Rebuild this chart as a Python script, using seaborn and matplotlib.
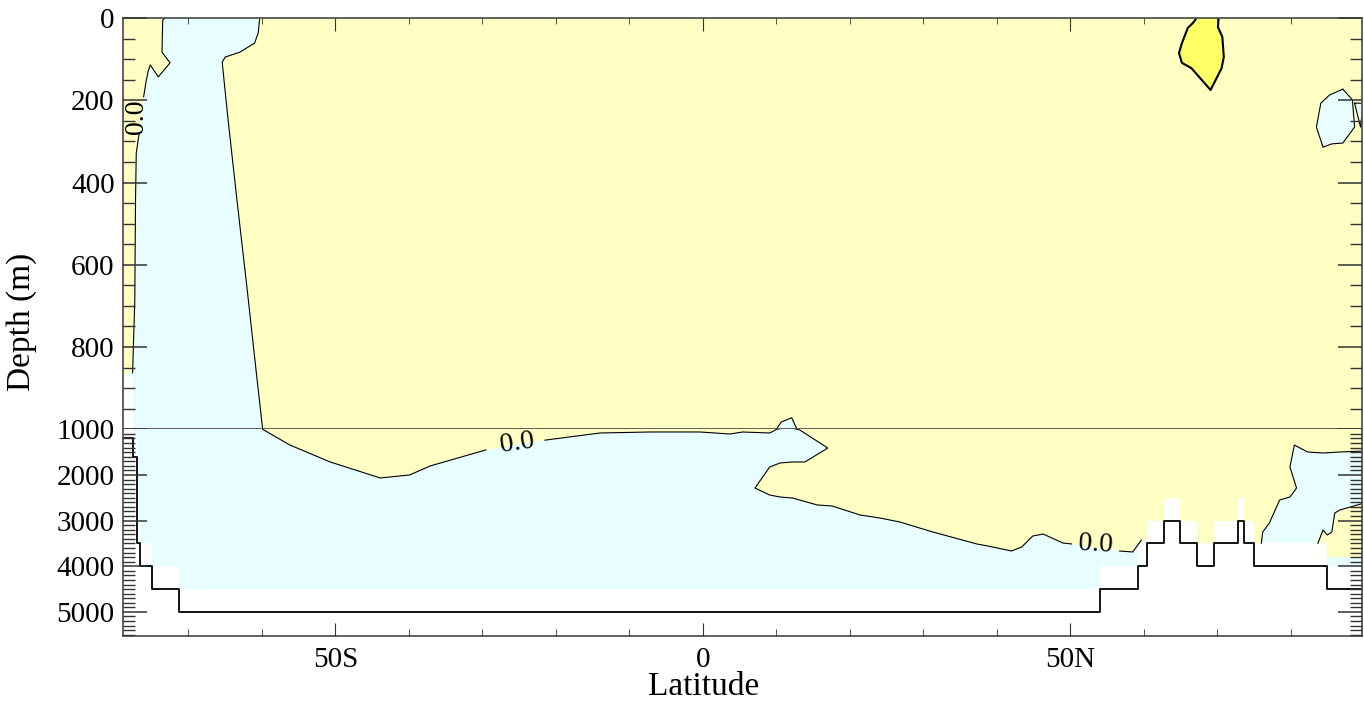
import matplotlib
matplotlib.use('Agg')
import matplotlib.pyplot as plt
import numpy as np
import pandas as pd
import seaborn as sns
from matplotlib.ticker import MultipleLocator, FixedLocator

# model bathymetry along the section (step edges in latitude)
lat_edges = [-78.9, -77.6, -77.0, -76.6, -75.0, -71.3, 54.0, 59.2, 60.4, 62.7,
             65.0, 67.3, 69.5, 72.8, 73.7, 75.0, 84.9, 89.7]
bottom_depth = [1200, 1600, 3500, 4000, 4500, 5000, 4500, 4000, 3500, 3000,
                3500, 4000, 3500, 3000, 3500, 4000, 4500]
fill_depth = [870, 1200, 3000, 3500, 4000, 4500, 4000, 3500, 3000, 2500,
              3000, 3500, 3000, 2500, 3000, 3500, 4000]

# zero contour: west side of the Southern Ocean column (top -> down)
so_west_a_lat = [-73.2, -73.5, -73.6, -72.5, -74.1, -75.2, -75.5, -75.8, -76.1]
so_west_a_dep = [0, 5, 83, 109, 143, 114, 131, 158, 192]
so_west_b_lat = [-76.7, -77.1, -77.2, -77.3, -77.6]
so_west_b_dep = [280, 328, 442, 686, 863]

# zero contour: east side of the column, then along the deep ocean
deep_a_lat = [-60.3, -60.5, -61.0, -63.0, -65.0, -65.4, -65.3, -64.6, -63.4, -62.0,
              -60.8, -59.9, -56.2, -50.7, -43.9, -39.9, -37.1, -29.5]
deep_a_dep = [0, 36, 61, 83, 95, 107, 126, 248, 442, 661,
              856, 1000, 1344, 1716, 2066, 2000, 1803, 1450]
deep_b_lat = [-21.5, -14.0, -7.2, -0.4, 3.7, 5.4, 9.1, 10.1, 10.7, 12.1, 13.2, 17.0,
              13.9, 12.1, 10.5, 9.1, 7.1, 9.1, 10.5, 12.2, 15.6, 17.6, 21.4, 24.1,
              26.8, 31.3, 37.3, 38.8, 42.0, 43.4, 44.9, 46.3, 49.0, 50.2]
deep_b_dep = [1238, 1081, 1059, 1059, 1103, 1059, 1081, 997, 982, 972, 1015, 1410,
              1716, 1716, 1738, 1826, 2286, 2439, 2483, 2505, 2658, 2680, 2877, 2943,
              3030, 3249, 3512, 3556, 3665, 3578, 3337, 3293, 3490, 3512]
deep_c_lat = [56.7, 58.5, 59.7]
deep_c_dep = [3665, 3687, 3424]

# zero contour: deep Arctic negative region
arc_top_lat = [76.0, 76.2, 77.1, 78.5, 79.9, 80.8, 79.9, 80.5, 82.3, 84.4, 86.7, 90.0]
arc_top_dep = [3500, 3249, 3052, 2548, 2483, 2286, 1826, 1344, 1497, 1519, 1497, 1475]
arc_low_lat = [90.0, 86.7, 86.0, 85.6, 85.0, 84.4, 83.7]
arc_low_dep = [2614, 2767, 2833, 3249, 3315, 3205, 3500]
strip_lat = [84.9, 90.0, 90.0, 84.9]
strip_dep = [3800, 3800, 4100, 4100]

# shallow negative blobs near the North Pole
blob_lat = [87.1, 88.4, 88.7, 87.1, 85.6, 84.4, 83.5, 84.1, 85.3, 87.1]
blob_dep = [173, 199, 265, 304, 306, 314, 265, 207, 187, 173]
wedge_lat = [88.7, 89.5, 89.9, 88.7]
wedge_dep = [207, 265, 207, 207]

# higher positive level patch
patch_lat = [67.2, 66.7, 66.0, 65.2, 64.8, 65.2, 66.5, 69.1, 70.6, 70.9, 70.7, 70.1, 70.2]
patch_dep = [0, 12, 24, 61, 85, 109, 122, 175, 122, 95, 46, 22, 0]

yellow = '#FFFFC4'
cyan = '#E8FDFF'
dark_yellow = '#FFFF66'

sns.set_style('ticks')
plt.rcParams['font.family'] = ['Liberation Serif', 'DejaVu Serif']
plt.rcParams['font.size'] = 20
plt.rcParams['text.color'] = 'black'
plt.rcParams['axes.labelcolor'] = 'black'
plt.rcParams['xtick.color'] = 'black'
plt.rcParams['ytick.color'] = 'black'

main_lat = (so_west_a_lat + so_west_b_lat + [-80, -80, 60.2, 60.2]
            + deep_c_lat[::-1] + deep_b_lat[::-1] + deep_a_lat[::-1])
main_dep = (so_west_a_dep + so_west_b_dep + [870, 7000, 7000, 3424]
            + deep_c_dep[::-1] + deep_b_dep[::-1] + deep_a_dep[::-1])
arc_lat = arc_top_lat + arc_low_lat + [83.7, 76.0]
arc_dep = arc_top_dep + arc_low_dep + [3600, 3600]


def seg(lat, dep, name):
    return pd.DataFrame({'lat': lat, 'depth': dep, 'seg': name})


lines = pd.concat([
    seg(so_west_a_lat, so_west_a_dep, 'a'),
    seg(so_west_b_lat, so_west_b_dep, 'b'),
    seg(deep_a_lat, deep_a_dep, 'c'),
    seg(deep_b_lat, deep_b_dep, 'd'),
    seg(deep_c_lat, deep_c_dep, 'e'),
    seg(arc_top_lat, arc_top_dep, 'f'),
    seg(arc_low_lat, arc_low_dep, 'g'),
    seg(blob_lat, blob_dep, 'h'),
    seg(wedge_lat, wedge_dep, 'i'),
], ignore_index=True)
patch = seg(patch_lat, patch_dep, 'p')


def draw_section(ax):
    edges = np.array(lat_edges)
    fb = fill_depth + [fill_depth[-1]]
    bd = bottom_depth + [bottom_depth[-1]]
    ax.fill_between(edges, 0, fb, step='post', color=yellow, lw=0)
    ax.fill(main_lat, main_dep, color=cyan, lw=0)
    ax.fill(arc_lat, arc_dep, color=cyan, lw=0)
    ax.fill(strip_lat, strip_dep, color=cyan, lw=0)
    ax.fill(blob_lat, blob_dep, color=cyan, lw=0)
    ax.fill(wedge_lat, wedge_dep, color=cyan, lw=0)
    ax.fill(patch_lat, patch_dep, color=dark_yellow, lw=0)
    ax.fill_between(edges, fb, 7000, step='post', color='white', lw=0)
    sns.lineplot(data=lines, x='lat', y='depth', units='seg', estimator=None,
                 sort=False, color='black', lw=0.8, ax=ax)
    sns.lineplot(data=patch, x='lat', y='depth', estimator=None, sort=False,
                 color='black', lw=1.5, ax=ax)
    sns.lineplot(x=edges, y=bd, estimator=None, drawstyle='steps-post',
                 color='black', lw=1.3, ax=ax)
    ax.set_xlim(-78.9, 89.7)
    ax.set_xlabel('')
    ax.set_ylabel('')
    ax.set_axisbelow(False)
    for s in ax.spines.values():
        s.set_color('#555555')
        s.set_linewidth(1.3)
        s.set_visible(True)


fig = plt.figure(figsize=(13.64, 7.04), dpi=100)
ax_top = fig.add_axes([0.0902, 0.3902, 0.9083, 0.5842])
ax_bot = fig.add_axes([0.0902, 0.0966, 0.9083, 0.2936])

for ax in (ax_top, ax_bot):
    draw_section(ax)

ax_top.set_ylim(1000, 0)
ax_bot.set_ylim(5527, 1000)
ax_bot.spines['top'].set_visible(False)

# depth ticks
ax_top.yaxis.set_major_locator(FixedLocator([0, 200, 400, 600, 800, 1000]))
ax_top.yaxis.set_minor_locator(MultipleLocator(50))
ax_bot.yaxis.set_major_locator(FixedLocator([2000, 3000, 4000, 5000]))
ax_bot.yaxis.set_minor_locator(FixedLocator(list(range(1100, 5501, 100))))
for ax in (ax_top, ax_bot):
    ax.tick_params(axis='y', which='major', direction='in', length=17, width=1.1,
                   left=True, right=True, color='#333333', pad=6, labelsize=21)
    ax.tick_params(axis='y', which='minor', direction='in', length=8.5, width=1.0,
                   left=True, right=True, color='#333333')
    ax.xaxis.set_major_locator(FixedLocator([-50, 0, 50]))
    ax.xaxis.set_minor_locator(FixedLocator(list(range(-70, 90, 10))))

ax_top.tick_params(axis='x', which='both', direction='in', top=True, bottom=False,
                   labelbottom=False, color='#333333')
ax_top.tick_params(axis='x', which='major', length=9)
ax_top.tick_params(axis='x', which='minor', length=4.5)
ax_bot.tick_params(axis='x', which='both', direction='in', top=False, bottom=True,
                   color='#333333')
ax_bot.tick_params(axis='x', which='major', length=9.5, pad=8, labelsize=21)
ax_bot.tick_params(axis='x', which='minor', length=5)
ax_bot.set_xticklabels(['50S', '0', '50N'])

# contour labels
ax_top.text(-77.0, 241, '0.0', rotation=90, ha='center', va='center', fontsize=20)
ax_bot.text(-25.2, 1300, '0.0', rotation=8, ha='center', va='center', fontsize=20)
ax_bot.text(53.4, 3520, '0.0', rotation=-3, ha='center', va='center', fontsize=20)

fig.text(0.016, 0.543, 'Depth (m)', rotation=90, ha='center', va='center', fontsize=24)
fig.text(0.5155, 0.024, 'Latitude', ha='center', va='center', fontsize=24)

fig.savefig('out.png', dpi=100)
